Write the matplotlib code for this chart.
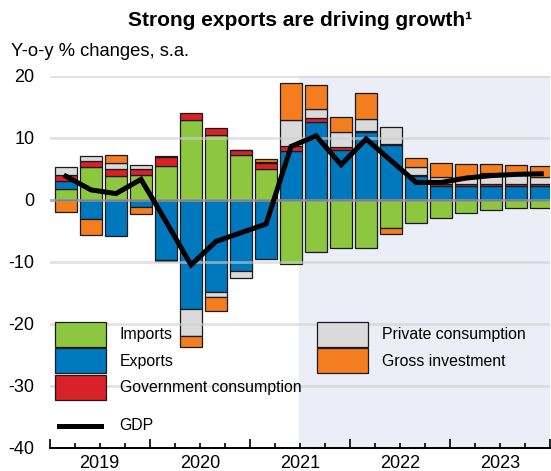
import numpy as np
import matplotlib
matplotlib.use('Agg')
import matplotlib.pyplot as plt
from matplotlib.patches import Rectangle
from matplotlib.lines import Line2D

plt.rcParams['font.family'] = ['Liberation Sans', 'DejaVu Sans']

# quarterly data, 2019Q1 - 2023Q4
years = ['2019', '2020', '2021', '2022', '2023']
imports = [1.7, 5.3, 3.9, 4.0, 5.5, 12.8, 10.5, 7.15, 5.0, -10.3,
           -8.45, -7.8, -7.7, -4.55, -3.75, -2.95, -2.15, -1.6, -1.35, -1.25]
exports = [1.4, -3.1, -5.8, -1.2, -9.7, -17.6, -14.9, -11.4, -9.55, 7.9,
           12.6, 8.05, 10.9, 8.9, 3.85, 2.25, 2.25, 2.25, 2.25, 2.25]
government = [0.9, 0.95, 1.0, 0.9, 1.45, 1.2, 1.0, 0.8, 1.0, 0.8,
              0.6, 0.4, 0.2, 0.1, 0.1, 0.3, 0.3, 0.3, 0.3, 0.3]
private = [1.3, 0.8, 1.1, 0.7, 0.1, -4.4, -0.7, -1.25, 0.15, 4.2,
           1.45, 2.45, 1.95, 2.8, 1.4, 1.2, 1.2, 1.7, 1.45, 1.1]
investment = [-2.0, -2.5, 1.2, -1.05, -0.2, -1.7, -2.3, 0.0, 0.35, 5.9,
              3.9, 2.5, 4.15, -0.95, 1.35, 2.15, 2.0, 1.45, 1.55, 1.8]
gdp = [3.8, 1.6, 1.0, 3.3, -3.5, -10.5, -6.7, -5.3, -3.9, 8.6,
       10.3, 5.65, 9.8, 6.3, 2.8, 2.8, 3.5, 3.9, 4.1, 4.2]

series = [
    ('Imports', imports, '#8DC63F'),
    ('Exports', exports, '#0078BE'),
    ('Government consumption', government, '#DA2128'),
    ('Private consumption', private, '#DADADA'),
    ('Gross investment', investment, '#F47D20'),
]

W, H = 551, 471
fig = plt.figure(figsize=(W / 100, H / 100), dpi=100)
ax = fig.add_axes([49.7 / W, 1 - 448 / H, (550 - 49.7) / W, (448 - 75.7) / H])

x = np.arange(len(gdp)) + 0.65
pos = np.zeros(len(gdp))
neg = np.zeros(len(gdp))
for name, vals, col in series:
    v = np.array(vals)
    bottom = np.where(v >= 0, pos, neg)
    ax.bar(x, v, width=0.86, bottom=bottom, color=col, edgecolor='#1a1a1a',
           linewidth=0.9, zorder=2)
    pos = pos + np.clip(v, 0, None)
    neg = neg + np.clip(v, None, 0)

ax.plot(x, gdp, color='black', lw=3.6, zorder=4, solid_joinstyle='miter')

# projection shading
ax.axvspan(9.98, 20, color='#EBEEF6', lw=0, zorder=0)

ax.set_xlim(0, 20)
ax.set_ylim(-40, 20)

# grid
for yv in [20, 10, -10, -20, -30]:
    ax.axhline(yv, color='#cfcfcf', lw=2, alpha=0.6, zorder=3)
ax.axhline(0, color='#9a9a9a', lw=2, alpha=0.8, zorder=3)

for s in ['left', 'right', 'top']:
    ax.spines[s].set_visible(False)
ax.spines['bottom'].set_linewidth(1.4)
ax.spines['bottom'].set_zorder(5)

ax.set_yticks([20, 10, 0, -10, -20, -30, -40])
ax.set_yticklabels(['20', '10', '0', '-10', '-20', '-30', '-40'])
ax.tick_params(axis='y', length=0, pad=11, labelsize=13)

ax.set_xticks(np.arange(0, 21, 4))
ax.set_xticklabels([])
minor = [q for q in range(1, 20) if q % 4 != 0]
ax.set_xticks(minor, minor=True)
ax.set_xticklabels([years[q // 4] if q % 4 == 2 else '' for q in minor], minor=True)
ax.tick_params(axis='x', which='major', direction='in', length=6.5, width=1.2)
ax.tick_params(axis='x', which='minor', direction='in', length=3.5, width=1.2,
               labelsize=13, pad=5)

# legend drawn by hand
def px(xp, yp):
    return xp / W, 1 - yp / H

def patch(x0, y0, col):
    fx, fy = px(x0, y0 + 25)
    fig.patches.append(Rectangle((fx, fy), 51 / W, 25 / H, transform=fig.transFigure,
                                 facecolor=col, edgecolor='#1a1a1a', lw=0.9))

for i, (name, vals, col) in enumerate(series[:3]):
    y0 = 322 + i * 26.3
    patch(54.5, y0, col)
    fig.text(*px(119.5, y0 + 13), name, ha='left', va='center', fontsize=11.4)
for i, (name, vals, col) in enumerate(series[3:]):
    y0 = 322 + i * 26.3
    patch(317.3, y0, col)
    fig.text(*px(382.3, y0 + 13), name, ha='left', va='center', fontsize=11.4)

fx0, fy0 = px(59, 426)
fx1, _ = px(101, 426)
fig.add_artist(Line2D([fx0, fx1], [fy0, fy0], color='black', lw=3.6,
                      transform=fig.transFigure))
fig.text(*px(119.5, 426), 'GDP', ha='left', va='center', fontsize=11.4)

fig.text(*px(300, 21), 'Strong exports are driving growth\u00b9', ha='center',
         va='center', fontsize=15, weight='bold')
fig.text(*px(11, 52), 'Y-o-y % changes, s.a.', ha='left', va='center', fontsize=13.2)

fig.savefig('out.png', dpi=100)
